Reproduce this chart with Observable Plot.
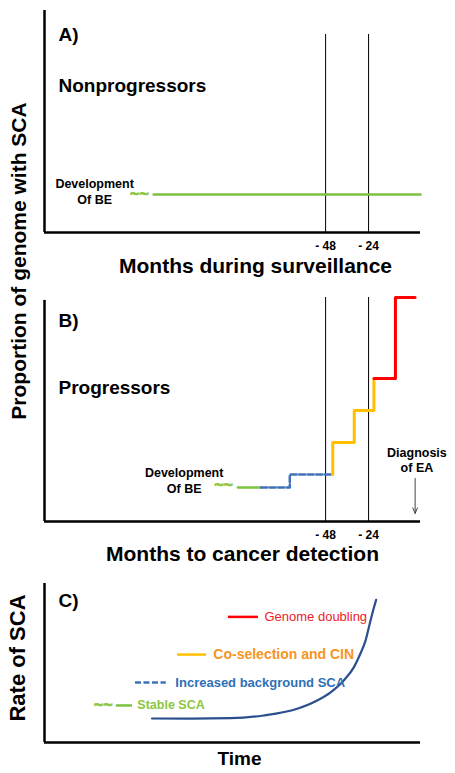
<!DOCTYPE html>
<html><head><meta charset="utf-8">
<script src="https://cdn.jsdelivr.net/npm/d3@7"></script>
<script src="https://cdn.jsdelivr.net/npm/@observablehq/plot@0.6"></script>
<style>
body{margin:0;background:#fff;}
#fig{position:relative;width:455px;height:773px;font-family:"Liberation Sans",Arial,sans-serif;}
.panel{position:absolute;left:0;}
.ytitle{position:absolute;transform:translate(-50%,-50%) rotate(-90deg);white-space:nowrap;font-weight:bold;color:#000;line-height:1;}
</style></head>
<body><div id="fig"></div>
<script>
// ---------- DATA ----------
const monthDomain = [-205, 5];
const referenceMonths = [-48, -24];
const referenceLabels = ["- 48", "- 24"];

// Panel A: nonprogressors (flat)
const nonprogMonths = [-144, 5];
const nonprogLevels = [0.171, 0.171];

// Panel B: progressors (stepwise)
const stableMonths = [-97, -84];
const stableLevels = [0.152, 0.152];
const backgroundMonths = [-84, -68, -44];
const backgroundLevels = [0.152, 0.21, 0.21];
const cinMonths = [-44, -44, -32, -21];
const cinLevels = [0.21, 0.353, 0.496, 0.638];
const doublingMonths = [-21, -9, 2];
const doublingLevels = [0.638, 1.0, 1.0];
const diagnosisMonth = 2;

// Panel C: rate of SCA over time
const timeValues = [28.6, 38.8, 49.5, 58.3, 67.2, 72.5, 76.1, 79.6, 82.3, 84.0, 85.4, 86.5, 87.4, 88.2];
const rateValues = [0.151, 0.150, 0.153, 0.170, 0.212, 0.264, 0.316, 0.390, 0.474, 0.558, 0.642, 0.747, 0.830, 0.897];

const legendLabels = ["Genome doubling", "Co-selection and CIN", "Increased background SCA", "Stable SCA"];

// ---------- STYLE / LAYOUT ----------
const FONT = '"Liberation Sans", Arial, sans-serif';
const GREEN = "#7dc242", GREEN_T = "#8dc63f", BLUE = "#3f72b9", YELLOW = "#ffc000", RED = "#ff0000", NAVY = "#2b4f8e";
const DASH = "6,2.5";
const legendColors = [RED, YELLOW, BLUE, GREEN];
const legendTextColors = ["#ee2028", "#f7941d", "#2e6fb7", GREEN_T];
const legendWeights = ["normal", "bold", "bold", "bold"];
const legendSizes = [13, 14, 13, 12.5];
const legendDash = [null, null, DASH, null];
const legendRate = [0.79, 0.553, 0.377, 0.233];
const legendStart = [48.9, 35.4, 24.2, 19.1];
const legendEnd = [56.9, 43.1, 32.4, 23.4];
const legendTextAt = [58.5, 44.9, 34.8, 24.7];

const tbl = (xs, ys) => xs.map((x, i) => ({x, y: ys[i]}));
const fig = document.getElementById("fig");
function place(svg, top) { svg.classList.add("panel"); svg.style.top = top + "px"; fig.appendChild(svg); }
const baseStyle = {fontFamily: FONT, background: "transparent", overflow: "visible"};

function axesMarks(yTop) {
  return [
    Plot.ruleX([monthDomain[0]], {y1: 0, y2: yTop, stroke: "#000", strokeWidth: 2.5}),
    Plot.ruleY([0], {x1: monthDomain[0], x2: monthDomain[1], stroke: "#000", strokeWidth: 2.5})
  ];
}
function tickMarks(dy) {
  return Plot.text(referenceMonths, {x: d => d, text: (d, i) => referenceLabels[i], frameAnchor: "bottom",
    lineAnchor: "middle", dy, fontSize: 12, fontWeight: "bold", fill: "#000"});
}
function beLabel(month, level) {
  return Plot.text([{x: month, y: level}], {x: "x", y: "y", text: () => "Development\nOf BE", lineAnchor: "middle",
    lineHeight: 1.28, fontSize: 12.5, fontWeight: "bold", fill: "#000"});
}
function tilde(x, y) {
  return Plot.text([{x, y}], {x: "x", y: "y", text: () => "~~", lineAnchor: "middle", fontSize: 16, fontWeight: "bold",
    fill: GREEN_T, stroke: GREEN_T, strokeWidth: 0.7});
}

// ---------- PANEL A ----------
const A = Plot.plot({
  width: 455, height: 275, marginLeft: 44, marginRight: 35, marginTop: 10, marginBottom: 43,
  x: {domain: monthDomain, axis: null}, y: {domain: [0, 1], axis: null}, style: baseStyle,
  marks: [
    Plot.ruleX(referenceMonths, {y1: 0, y2: 0.892, stroke: "#000", strokeWidth: 1}),
    Plot.line(tbl(nonprogMonths, nonprogLevels), {x: "x", y: "y", stroke: GREEN, strokeWidth: 2.5}),
    ...axesMarks(1),
    tickMarks(14),
    tilde(-152, 0.175),
    beLabel(-177, 0.189),
    Plot.text(["A)"], {text: d => d, frameAnchor: "top-left", lineAnchor: "middle", dx: 14, dy: 24, fontSize: 19, fontWeight: "bold"}),
    Plot.text(["Nonprogressors"], {text: d => d, frameAnchor: "top-left", lineAnchor: "middle", dx: 14, dy: 75, fontSize: 19, fontWeight: "bold"}),
    Plot.text(["Months during surveillance"], {text: d => d, frameAnchor: "bottom", lineAnchor: "middle", dx: 23, dy: 34, fontSize: 21, fontWeight: "bold"})
  ]
});
place(A, 0);

// ---------- PANEL B ----------
const B = Plot.plot({
  width: 455, height: 285, marginLeft: 44, marginRight: 35, marginTop: 22, marginBottom: 39,
  x: {domain: monthDomain, axis: null}, y: {domain: [0, 1], axis: null}, style: baseStyle,
  marks: [
    Plot.ruleX(referenceMonths, {y1: 0, y2: 1, stroke: "#000", strokeWidth: 1}),
    Plot.line(tbl(stableMonths, stableLevels), {x: "x", y: "y", stroke: GREEN, strokeWidth: 2.5}),
    Plot.line(tbl(backgroundMonths, backgroundLevels), {x: "x", y: "y", curve: "step-after", stroke: BLUE, strokeWidth: 2.5, strokeDasharray: DASH}),
    Plot.line(tbl(cinMonths, cinLevels), {x: "x", y: "y", curve: "step-after", stroke: YELLOW, strokeWidth: 3}),
    Plot.line(tbl(doublingMonths, doublingLevels), {x: "x", y: "y", curve: "step-after", stroke: RED, strokeWidth: 3}),
    ...axesMarks(0.987),
    tickMarks(14),
    tilde(-105, 0.162),
    beLabel(-127, 0.1875),
    Plot.text([{x: diagnosisMonth + 1, y: 0.275}], {x: "x", y: "y", text: () => "Diagnosis\nof EA", lineAnchor: "middle", lineHeight: 1.2, fontSize: 12.5, fontWeight: "bold"}),
    Plot.arrow([{x: diagnosisMonth, y1: 0.192, y2: 0.036}], {x1: "x", x2: "x", y1: "y1", y2: "y2", stroke: "#444", strokeWidth: 1, headLength: 9, headAngle: 45}),
    Plot.text(["B)"], {text: d => d, frameAnchor: "top-left", lineAnchor: "middle", dx: 14, dy: 23, fontSize: 19, fontWeight: "bold"}),
    Plot.text(["Progressors"], {text: d => d, frameAnchor: "top-left", lineAnchor: "middle", dx: 14, dy: 90, fontSize: 19, fontWeight: "bold"}),
    Plot.text(["Months to cancer detection"], {text: d => d, frameAnchor: "bottom", lineAnchor: "middle", dx: 10, dy: 33, fontSize: 21, fontWeight: "bold"})
  ]
});
place(B, 275);

// ---------- PANEL C ----------
const legendMarks = legendLabels.flatMap((label, i) => [
  Plot.ruleY([{y: legendRate[i], x1: legendStart[i], x2: legendEnd[i]}], {y: "y", x1: "x1", x2: "x2",
    stroke: legendColors[i], strokeWidth: 2.5, strokeDasharray: legendDash[i] ?? undefined}),
  Plot.text([{x: legendTextAt[i], y: legendRate[i]}], {x: "x", y: "y", text: () => label, textAnchor: "start",
    lineAnchor: "middle", fill: legendTextColors[i], fontSize: legendSizes[i], fontWeight: legendWeights[i]})
]);
const C = Plot.plot({
  width: 455, height: 213, marginLeft: 44, marginRight: 35, marginTop: 23, marginBottom: 31,
  x: {domain: [0, 100], axis: null}, y: {domain: [0, 1], axis: null}, style: baseStyle,
  marks: [
    Plot.ruleX([0], {y1: 0, y2: 1, stroke: "#000", strokeWidth: 2.5}),
    Plot.ruleY([0], {x1: 0, x2: 100, stroke: "#000", strokeWidth: 2.5}),
    Plot.line(tbl(timeValues, rateValues), {x: "x", y: "y", curve: "monotone-x", stroke: NAVY, strokeWidth: 2.2}),
    ...legendMarks,
    tilde(15.6, 0.237),
    Plot.text(["C)"], {text: d => d, frameAnchor: "top-left", lineAnchor: "middle", dx: 14, dy: 17, fontSize: 19, fontWeight: "bold"}),
    Plot.text(["Time"], {text: d => d, frameAnchor: "bottom", lineAnchor: "middle", dx: 7, dy: 16, fontSize: 19, fontWeight: "bold"})
  ]
});
place(C, 560);

// ---------- Y TITLES ----------
function ytitle(text, x, y, size) {
  const d = document.createElement("div");
  d.className = "ytitle"; d.textContent = text;
  d.style.left = x + "px"; d.style.top = y + "px"; d.style.fontSize = size + "px";
  fig.appendChild(d);
}
ytitle("Proportion of genome with SCA", 18, 261, 21);
ytitle("Rate of SCA", 18, 658, 22);
</script>
</body></html>
